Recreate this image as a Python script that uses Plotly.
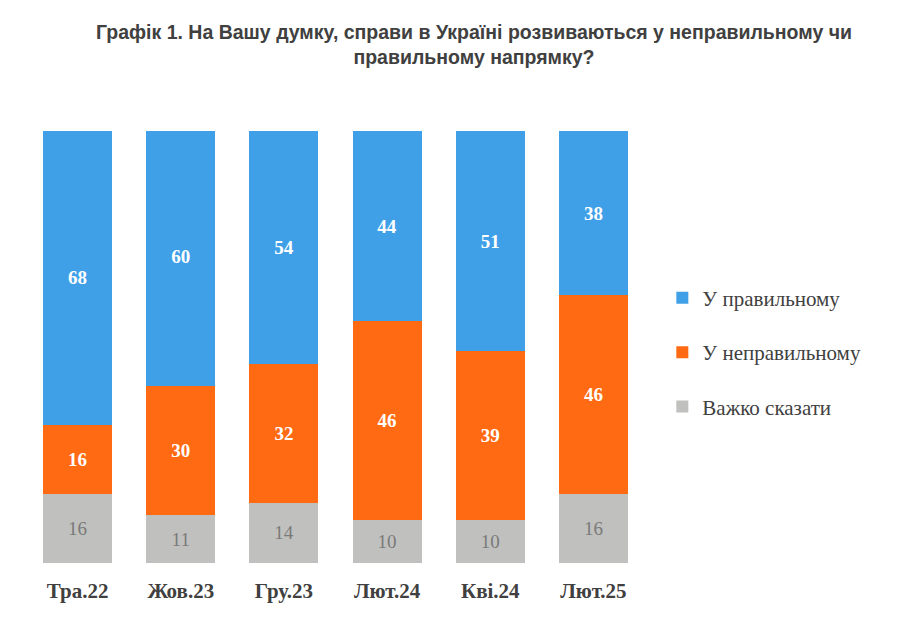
import plotly.graph_objects as go

categories = ["Тра.22", "Жов.23", "Гру.23", "Лют.24", "Кві.24", "Лют.25"]
right_dir = [68, 60, 54, 44, 51, 38]
wrong_dir = [16, 30, 32, 46, 39, 46]
hard_say = [16, 11, 14, 10, 10, 16]

series = [
    ("Важко сказати", hard_say, "#C0C0BE", "#7a7a7a", False, 3),
    ("У неправильному", wrong_dir, "#FF6A13", "white", True, 2),
    ("У правильному", right_dir, "#3FA0E8", "white", True, 1),
]

fig = go.Figure()
for i, (name, vals, color, tcolor, bold, rank) in enumerate(series):
    fig.add_trace(go.Bar(
        x=categories, y=vals, name=name,
        marker=dict(color=color, line=dict(width=0)),
        text=[f"<b>{v}</b>" if bold else str(v) for v in vals],
        textposition="inside", insidetextanchor="middle",
        textfont=dict(family="Liberation Serif", size=19, color=tcolor),
        legendgroup=str(i), legendrank=rank,
    ))

fig.update_layout(
    barmode="stack", bargap=0.33,
    width=920, height=625,
    margin=dict(l=18, r=283, t=123, b=70),
    paper_bgcolor="white", plot_bgcolor="white",
    title=dict(
        text="<b>Графік 1. На Вашу думку, справи в Україні розвиваються у неправильному чи<br>правильному напрямку?</b>",
        x=0.5065, xanchor="center", y=0.951, yanchor="top",
        font=dict(family="Liberation Sans", size=19.5, color="#404040"),
    ),
    legend=dict(
        x=1.028, y=0.488, xanchor="left", yanchor="middle",
        traceorder="grouped", tracegroupgap=24,
        font=dict(family="Liberation Serif", size=21, color="#404040"),
        itemwidth=30,
    ),
    uniformtext=dict(minsize=10, mode="show"),
)
fig.update_xaxes(
    tickfont=dict(family="Liberation Serif", size=21, color="#404040"),
    tickprefix="<b>", ticksuffix="</b>", showline=False, ticks="",
    ticklabelstandoff=13, automargin=False,
)
fig.update_yaxes(visible=False, range=[0, 100])

fig.write_html("out.html")
